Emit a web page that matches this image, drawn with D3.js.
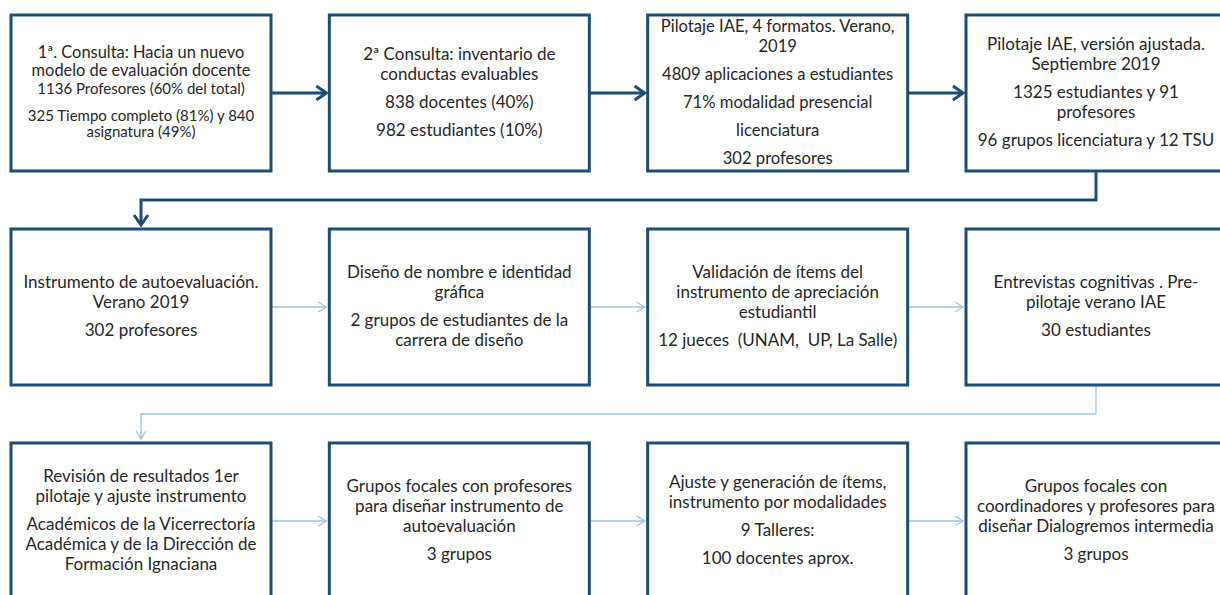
<!DOCTYPE html>
<html><head><meta charset="utf-8">
<script src="https://cdn.jsdelivr.net/npm/d3@7"></script>
<style>html,body{margin:0;padding:0;background:#fff;}svg{display:block;}text{white-space:pre;}</style>
</head><body>
<svg id="chart" width="1220" height="595"></svg>
<script>
// ---- data ----
const steps = [
  [["1ª. Consulta: Hacia un nuevo","modelo de evaluación docente"],["1136 Profesores (60% del total)"],["325 Tiempo completo (81%) y 840","asignatura (49%)"]],
  [["2ª Consulta: inventario de","conductas evaluables"],["838 docentes (40%)"],["982 estudiantes (10%)"]],
  [["Pilotaje IAE, 4 formatos. Verano,","2019"],["4809 aplicaciones a estudiantes"],["71% modalidad presencial"],["licenciatura"],["302 profesores"]],
  [["Pilotaje IAE, versión ajustada.","Septiembre 2019"],["1325 estudiantes y 91","profesores"],["96 grupos licenciatura y 12 TSU"]],
  [["Instrumento de autoevaluación.","Verano 2019"],["302 profesores"]],
  [["Diseño de nombre e identidad","gráfica"],["2 grupos de estudiantes de la","carrera de diseño"]],
  [["Validación de ítems del","instrumento de apreciación","estudiantil"],["12 jueces  (UNAM,  UP, La Salle)"]],
  [["Entrevistas cognitivas . Pre-","pilotaje verano IAE"],["30 estudiantes"]],
  [["Revisión de resultados 1er","pilotaje y ajuste instrumento"],["Académicos de la Vicerrectoría","Académica y de la Dirección de","Formación Ignaciana"]],
  [["Grupos focales con profesores","para diseñar instrumento de","autoevaluación"],["3 grupos"]],
  [["Ajuste y generación de ítems,","instrumento por modalidades"],["9 Talleres:"],["100 docentes aprox."]],
  [["Grupos focales con","coordinadores y profesores para","diseñar Dialogremos intermedia"],["3 grupos"]]
];
const rows = [0,1,2];
const cols = [0,1,2,3];

// ---- layout ----
const W = 1220, H = 595;
const boxW = 260, boxH = 156;
const x = d3.scaleLinear().domain([0,3]).range([11,966]);
const y = d3.scaleLinear().domain([0,2]).range([15,443]);
const dark = "#1c4e74", light = "#9dc3e6", txt = "#262626";
const font = "Lato, 'Open Sans', sans-serif";

const svg = d3.select("#chart");
svg.append("rect").attr("width",W).attr("height",H).attr("fill","#fff");

const nodes = steps.map((p,i)=>({paras:p, r:Math.floor(i/4), c:i%4, i}));

// connectors
const g = svg.append("g").attr("fill","none").attr("stroke-linejoin","miter");
function arrowRight(x1,x2,yy,color,sw,hl,hw){
  g.append("path").attr("d",`M${x1},${yy}H${x2}`).attr("stroke",color).attr("stroke-width",sw);
  g.append("path").attr("d",`M${x2-hl},${yy-hw}L${x2},${yy}L${x2-hl},${yy+hw}`).attr("stroke",color).attr("stroke-width",sw);
}
function elbow(xs,y1,ym,xe,y2,color,sw,hl,hw){
  g.append("path").attr("d",`M${xs},${y1}V${ym}H${xe}V${y2}`).attr("stroke",color).attr("stroke-width",sw);
  g.append("path").attr("d",`M${xe-hw},${y2-hl}L${xe},${y2}L${xe+hw},${y2-hl}`).attr("stroke",color).attr("stroke-width",sw);
}
rows.forEach(r=>{
  const strong = r===0;
  const color = strong?dark:light, sw = strong?3:1.3, hl = strong?10:8, hw = strong?7:5;
  const cy = y(r)+boxH/2;
  cols.slice(0,3).forEach(c=>{
    arrowRight(x(c)+boxW, x(c+1)-3, cy, color, sw, hl, hw);
  });
  if(r<2){
    const ym = y(r)+boxH + (y(r+1)-y(r)-boxH)/2;
    elbow(x(3)+boxW/2, y(r)+boxH, ym, x(0)+boxW/2, y(r+1)-4, color, sw, hl, hw);
  }
});

// boxes
const bx = svg.selectAll("g.box").data(nodes).join("g").attr("class","box")
  .attr("transform",d=>`translate(${x(d.c)},${y(d.r)})`);
bx.append("rect").attr("width",boxW).attr("height",boxH)
  .attr("fill","#fff").attr("stroke",dark).attr("stroke-width",3);

bx.each(function(d){
  const sel = d3.select(this);
  const first = d.i===0;
  const items = [];
  let pos = 0;
  d.paras.forEach((p,pi)=>{
    if(pi>0) pos += first ? (pi===1?1:11) : 8;
    p.forEach((line)=>{
      const size = first ? (pi===0?16.4:15) : (d.i===2?16.6:17);
      items.push({line, pos, size});
      pos += first ? (pi===0?18:16) : 20;
    });
  });
  const span = items[items.length-1].pos;
  const off = boxH/2 - span/2 - 1;
  sel.selectAll("text").data(items).join("text")
    .attr("x",boxW/2).attr("y",t=>off+t.pos)
    .attr("dy","0.35em")
    .attr("text-anchor","middle")
    .attr("font-family",font).attr("font-size",t=>t.size)
    .attr("fill",txt)
    .text(t=>t.line);
});
</script>
</body></html>
